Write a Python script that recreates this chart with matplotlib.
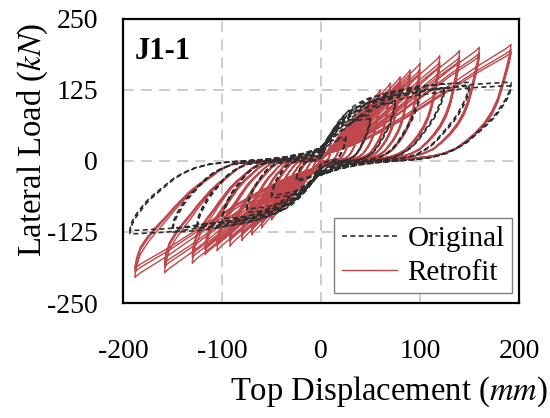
import numpy as np
import matplotlib
matplotlib.use("Agg")
import matplotlib.pyplot as plt

# ---- cycle peaks (displacement mm, load kN) ----
# Retrofit (red), three cycles per amplitude
ret_pos_disp = [10, 20, 30, 40, 50, 60, 70, 80, 90, 100, 120, 140, 160, 192]
ret_pos_load = [28, 50, 72, 92, 110, 125, 137, 148, 160, 172, 185, 194, 200, 205]
ret_pos_load2 = [26, 47, 68, 86, 103, 117, 128, 139, 150, 161, 174, 183, 190, 196]
ret_pos_load3 = [25, 45, 65, 83, 99, 113, 124, 134, 145, 156, 168, 177, 185, 191]
ret_neg_disp = [-10, -20, -30, -40, -50, -60, -70, -80, -92, -105, -117, -130, -158, -188]
ret_neg_load = [-26, -48, -68, -88, -104, -118, -130, -140, -150, -158, -165, -180, -197, -205]
ret_neg_load2 = [-24, -45, -64, -83, -98, -111, -122, -132, -141, -149, -156, -170, -186, -195]
ret_neg_load3 = [-23, -43, -62, -80, -94, -107, -118, -127, -136, -144, -151, -164, -180, -189]

# Original (black dashed), two cycles per amplitude
org_pos_disp = [25, 50, 75, 100, 125, 150, 192]
org_pos_load = [42, 80, 110, 128, 135, 138, 138]
org_pos_load2 = [38, 74, 102, 120, 128, 131, 132]
org_neg_disp = [-25, -50, -75, -100, -125, -150, -193]
org_neg_load = [-35, -65, -90, -108, -118, -125, -128]
org_neg_load2 = [-32, -60, -84, -101, -111, -118, -122]

# half-loop shapes as fractions of the peak, traced on the largest loops
ret_load_u = [0.00, 0.08, 0.16, 0.25, 0.35, 0.45, 0.55, 0.65, 0.74, 0.82, 0.88, 0.93, 0.97, 0.99, 1.00]
ret_load_v = [0.06, 0.09, 0.14, 0.21, 0.30, 0.40, 0.51, 0.62, 0.72, 0.81, 0.87, 0.92, 0.96, 0.985, 1.00]
# unloading from a positive peak
ret_unload_u = [0.998, 0.99, 0.975, 0.955, 0.93, 0.90, 0.86, 0.81, 0.76, 0.71, 0.65, 0.59,
                0.50, 0.40, 0.28, 0.14, 0.00]
ret_unload_v = [0.97, 0.90, 0.80, 0.68, 0.54, 0.43, 0.33, 0.24, 0.17, 0.11, 0.07, 0.045,
                0.025, 0.01, -0.005, -0.025, -0.05]
# unloading from a negative peak (rounder)
ret_nunload_u = [0.998, 0.99, 0.97, 0.93, 0.88, 0.83, 0.79, 0.75, 0.71, 0.66, 0.60, 0.54,
                 0.48, 0.40, 0.28, 0.14, 0.00]
ret_nunload_v = [0.97, 0.90, 0.80, 0.70, 0.60, 0.51, 0.43, 0.36, 0.29, 0.22, 0.15, 0.08,
                 0.03, 0.01, -0.005, -0.025, -0.05]

org_load_u = [0.00, 0.03, 0.06, 0.10, 0.15, 0.20, 0.25, 0.30, 0.36, 0.43, 0.50, 0.58,
              0.66, 0.74, 0.82, 0.90, 0.96, 1.00]
org_load_v = [0.18, 0.23, 0.30, 0.38, 0.48, 0.57, 0.65, 0.72, 0.78, 0.83, 0.87, 0.90,
              0.93, 0.96, 0.98, 0.99, 1.00, 1.00]
org_unload_u = [0.998, 0.99, 0.97, 0.945, 0.92, 0.89, 0.86, 0.82, 0.77, 0.72, 0.66, 0.59,
                0.50, 0.40, 0.30, 0.20, 0.10, 0.00]
org_unload_v = [0.96, 0.88, 0.78, 0.69, 0.60, 0.52, 0.45, 0.36, 0.25, 0.17, 0.10, 0.05,
                0.02, 0.00, -0.02, -0.05, -0.10, -0.18]

x_ticks = [-200, -100, 0, 100, 200]
y_ticks = [-250, -125, 0, 125, 250]

RED = "#c0474b"
DARK = "#2e2e2e"
GRID = "#c8c8c8"


def build_loops(pd, nd, pos_sets, neg_sets, lu, lv, uu, uv, nuu, nuv):
    lu, lv, uu, uv, nuu, nuv = map(np.asarray, (lu, lv, uu, uv, nuu, nuv))
    xs, ys = [], []
    for i in range(len(pd)):
        for pl, nl in zip(pos_sets, neg_sets):
            # positive half: reload, then unload
            xs += list(lu * pd[i]) + list(uu * pd[i])
            ys += list(lv * pl[i]) + list(uv * pl[i])
            # negative half
            xs += list(lu * nd[i]) + list(nuu * nd[i])
            ys += list(lv * nl[i]) + list(nuv * nl[i])
    return np.array(xs), np.array(ys)


rx, ry = build_loops(ret_pos_disp, ret_neg_disp,
                     [ret_pos_load, ret_pos_load2, ret_pos_load3],
                     [ret_neg_load, ret_neg_load2, ret_neg_load3],
                     ret_load_u, ret_load_v, ret_unload_u, ret_unload_v,
                     ret_nunload_u, ret_nunload_v)
ox, oy = build_loops(org_pos_disp, org_neg_disp,
                     [org_pos_load, org_pos_load2],
                     [org_neg_load, org_neg_load2],
                     org_load_u, org_load_v, org_unload_u, org_unload_v,
                     org_unload_u, org_unload_v)

plt.rcParams["font.family"] = ["Liberation Serif", "DejaVu Serif"]
plt.rcParams["mathtext.fontset"] = "stix"

fig = plt.figure(figsize=(5.5, 4.18), dpi=100)
ax = fig.add_axes([0.2236, 0.275, 0.72, 0.68])

ax.plot(rx, ry, color=RED, lw=1.0, zorder=3, label="Retrofit")
ax.plot(ox, oy, color=DARK, lw=1.2, dashes=(3, 2), zorder=4, label="Original")

ax.set_xlim(-200, 200)
ax.set_ylim(-250, 250)
ax.set_xticks(x_ticks)
ax.set_yticks(y_ticks)
ax.set_xticklabels([str(v) for v in x_ticks])
ax.set_yticklabels([str(v) for v in y_ticks])
ax.tick_params(axis="x", length=0, pad=26, labelsize=20)
ax.tick_params(axis="y", length=0, pad=18, labelsize=20)

# dashed grid at the inner ticks only
for v in x_ticks[1:-1]:
    ax.axvline(v, color=GRID, lw=1.3, dashes=(6, 4), zorder=1)
for v in y_ticks[1:-1]:
    ax.axhline(v, color=GRID, lw=1.3, dashes=(6, 4), zorder=1)

for s in ax.spines.values():
    s.set_linewidth(1.6)
    s.set_color("black")

ax.set_xlabel("Top Displacement ($\\mathit{mm}$)", fontsize=23.5, ha="right", va="top")
ax.xaxis.set_label_coords(1.073, -0.25)
ax.set_ylabel("Lateral Load ($\\mathit{kN}$)", fontsize=23.5, va="center")
ax.yaxis.set_label_coords(-0.227, 0.574)

ax.text(0.03, 0.935, "J1-1", transform=ax.transAxes, fontsize=22,
        fontweight="bold", va="top", ha="left")

h, l = ax.get_legend_handles_labels()
leg = ax.legend(h[::-1], l[::-1], loc="lower right", bbox_to_anchor=(0.982, 0.035),
                borderaxespad=0, fontsize=21, frameon=True, fancybox=False,
                handlelength=1.9, handletextpad=0.35, labelspacing=0.25,
                borderpad=0.25)
leg.get_frame().set_edgecolor("#7f7f7f")
leg.get_frame().set_linewidth(1.0)
leg.get_frame().set_alpha(1)

fig.savefig("out.png", dpi=100)
